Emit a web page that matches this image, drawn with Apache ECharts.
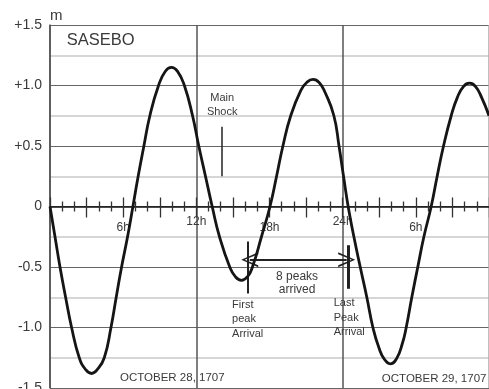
<!DOCTYPE html>
<html>
<head>
<meta charset="utf-8">
<script src="https://cdn.jsdelivr.net/npm/echarts@6/dist/echarts.min.js"></script>
<style>
html,body{margin:0;padding:0;background:#fff;}
#chart{width:489px;height:389px;}
</style>
</head>
<body>
<div id="chart"></div>
<script>
// Tide record at Sasebo, hours after 0h Oct 28, 1707
const hours = [0, 0.41, 0.82, 1.28, 1.77, 2.4, 2.9, 3.41, 3.9, 4.45, 5.0, 5.43, 5.87, 6.36, 6.8,
  7.23, 7.7, 8.19, 8.9, 9.46, 9.96, 10.46, 11.02, 11.69, 12.2, 12.75, 13.3, 13.9, 14.74, 15.2, 15.7,
  16.2, 16.6, 17.34, 18.04, 18.58, 19.1, 19.74, 20.57, 21.07, 21.57, 22.07, 22.57, 23.28, 23.7, 24.07,
  24.45, 24.92, 25.44, 25.98, 26.48, 26.98, 27.43, 27.93, 28.43, 28.9, 29.21, 29.67, 30.16,
  30.66, 31.26, 31.75, 32.27, 32.9, 33.4, 33.9, 34.4, 34.9, 35.4, 36];
const level = [0, -0.25, -0.5, -0.75, -1.0, -1.25, -1.345, -1.38, -1.345, -1.25, -1.0, -0.75, -0.5, -0.25, 0,
  0.25, 0.5, 0.75, 1.0, 1.118, 1.15, 1.117, 1.0, 0.75, 0.5, 0.25, 0, -0.25, -0.5, -0.58, -0.61,
  -0.58, -0.5, -0.25, 0, 0.25, 0.5, 0.75, 0.96, 1.027, 1.05, 1.025, 0.94, 0.75, 0.5, 0.25,
  0, -0.25, -0.5, -0.75, -1.0, -1.17, -1.264, -1.3, -1.255, -1.13, -1.0, -0.75, -0.5,
  -0.25, 0, 0.25, 0.5, 0.75, 0.9, 0.99, 1.02, 0.99, 0.9, 0.75];
const xTickLabels = {6: '6h', 12: '12h', 18: '18h', 24: '24h', 30: '6h'};
const yTickLabels = {'1.5': '+1.5', '1': '+1.0', '0.5': '+0.5', '0': '0', '-0.5': '-0.5', '-1': '-1.0', '-1.5': '-1.5'};
const mainShockHour = 14.12;
const mainShockRange = [0.25, 0.66];
const firstPeakHour = 16.2;
const firstPeakRange = [-0.29, -0.72];
const lastPeakHour = 24.45;
const lastPeakRange = [-0.32, -0.68];
const arrowSpan = [16.38, 24.33];
const arrowLevel = -0.44;

const FONT = '"Liberation Sans", Arial, sans-serif';
const TXT = '#3a3a3a';
const chevron = 'path://M0,20 L5,0 L10,20 L8.6,20 L5,4 L1.4,20 Z';

const H = 389, TOP = 25, BOTTOM = 1;
const zeroFromBottom = BOTTOM + (H - TOP - BOTTOM) / 2; // grid whose bottom edge is the y = 0 line

const chart = echarts.init(document.getElementById('chart'), null, {renderer: 'canvas'});
const hidden = {axisLine: {show: false, onZero: false}, axisTick: {show: false}, axisLabel: {show: false}, splitLine: {show: false}};
chart.setOption({
  animation: false,
  grid: [
    {left: 50, right: 0, top: TOP, bottom: BOTTOM, containLabel: false, outerBoundsMode: 'none'},
    {left: 50, right: 0, top: TOP, bottom: zeroFromBottom, containLabel: false, outerBoundsMode: 'none'},
    {left: 50, right: 0, top: TOP, bottom: zeroFromBottom, containLabel: false, outerBoundsMode: 'none'}
  ],
  xAxis: [
    Object.assign({type: 'value', min: 0, max: 36, gridIndex: 0}, hidden),
    {
      type: 'value', min: 0, max: 36, interval: 3, gridIndex: 1, position: 'bottom',
      axisLine: {show: true, onZero: false, lineStyle: {color: '#111', width: 1.5}},
      splitLine: {show: false},
      axisTick: {show: true, length: 11, lineStyle: {color: '#333', width: 1.3}},
      minorTick: {show: true, splitNumber: 3, length: 5, lineStyle: {color: '#333', width: 1.3}},
      axisLabel: {
        margin: 9, fontFamily: FONT, fontSize: 12, color: TXT,
        formatter: v => xTickLabels[v] ? (v % 12 === 6 ? '{b|' + xTickLabels[v] + '}' : '{a|' + xTickLabels[v] + '}') : '',
        rich: {a: {fontFamily: FONT, fontSize: 12, color: TXT}, b: {fontFamily: FONT, fontSize: 12, color: TXT, padding: [6, 0, 0, 0]}}
      }
    },
    {
      type: 'value', min: 0, max: 36, interval: 3, gridIndex: 2, position: 'bottom',
      axisLine: {show: false, onZero: false},
      splitLine: {show: false},
      axisTick: {show: true, inside: true, length: 9, lineStyle: {color: '#333', width: 1.3}},
      minorTick: {show: true, splitNumber: 3, length: 5, lineStyle: {color: '#333', width: 1.3}},
      axisLabel: {show: false}
    },
    {
      type: 'value', min: 0, max: 36, interval: 12, gridIndex: 0, position: 'top',
      axisLine: {show: false, onZero: false}, axisTick: {show: false}, axisLabel: {show: false},
      splitLine: {show: true, lineStyle: {color: ['#555', '#555', '#555', '#aaa'], width: 1.5}}
    }
  ],
  yAxis: [
    {
      type: 'value', min: -1.5, max: 1.5, interval: 0.5, gridIndex: 0,
      name: 'm', nameLocation: 'end', nameGap: 9,
      nameTextStyle: {fontFamily: FONT, fontSize: 15, color: TXT, align: 'left', verticalAlign: 'middle'},
      axisLine: {show: true, onZero: false, lineStyle: {color: '#555', width: 1.5}},
      axisTick: {show: false},
      axisLabel: {margin: 8, fontFamily: FONT, fontSize: 14, color: TXT, formatter: v => yTickLabels[String(v)] || ''},
      splitLine: {show: true, lineStyle: {color: '#666', width: 1.2}},
      minorTick: {show: false, splitNumber: 2},
      minorSplitLine: {show: true, lineStyle: {color: '#c8c8c8', width: 1.6}}
    },
    Object.assign({type: 'value', min: 0, max: 1, gridIndex: 1}, hidden),
    Object.assign({type: 'value', min: 0, max: 1, gridIndex: 2}, hidden)
  ],
  series: [{
    type: 'line',
    xAxisIndex: 0, yAxisIndex: 0,
    data: hours.map((t, i) => [t, level[i]]),
    smooth: 0.5,
    showSymbol: false,
    lineStyle: {color: '#151515', width: 2.8},
    z: 5,
    markLine: {
      silent: true,
      symbol: 'none',
      label: {show: false},
      data: [
        [{coord: [mainShockHour, mainShockRange[0]], lineStyle: {color: '#222', width: 1.5, type: 'solid'}}, {coord: [mainShockHour, mainShockRange[1]]}],
        [{coord: [firstPeakHour, firstPeakRange[0]], lineStyle: {color: '#222', width: 2, type: 'solid'}}, {coord: [firstPeakHour, firstPeakRange[1]]}],
        [{coord: [lastPeakHour, lastPeakRange[0]], lineStyle: {color: '#222', width: 3, type: 'solid'}}, {coord: [lastPeakHour, lastPeakRange[1]]}],
        [{coord: [arrowSpan[0], arrowLevel], symbol: chevron, symbolSize: [15, 17], lineStyle: {color: '#222', width: 2, type: 'solid'}},
         {coord: [arrowSpan[1], arrowLevel], symbol: chevron, symbolSize: [15, 17]}]
      ]
    },
    markPoint: {
      silent: true,
      symbol: 'circle', symbolSize: 0,
      data: [
        {coord: [1.37, 1.376], label: {show: true, formatter: 'SASEBO', position: 'right', distance: 0, fontFamily: FONT, fontSize: 16.5, color: TXT}},
        {coord: [mainShockHour, 0.84], label: {show: true, formatter: 'Main\nShock', position: 'inside', align: 'center', fontFamily: FONT, fontSize: 11, lineHeight: 14, color: TXT}},
        {coord: [20.26, -0.636], label: {show: true, formatter: '8 peaks\narrived', position: 'inside', align: 'center', fontFamily: FONT, fontSize: 12, lineHeight: 13, color: TXT}},
        {coord: [14.93, -0.93], label: {show: true, formatter: 'First\npeak\nArrival', position: 'right', distance: 0, align: 'left', fontFamily: FONT, fontSize: 11, lineHeight: 14.5, color: TXT}},
        {coord: [23.26, -0.92], label: {show: true, formatter: 'Last\nPeak\nArrival', position: 'right', distance: 0, align: 'left', fontFamily: FONT, fontSize: 11, lineHeight: 14.5, color: TXT}},
        {coord: [5.74, -1.413], label: {show: true, formatter: 'OCTOBER 28, 1707', position: 'right', distance: 0, fontFamily: FONT, fontSize: 11.5, color: TXT}},
        {coord: [27.21, -1.426], label: {show: true, formatter: 'OCTOBER 29, 1707', position: 'right', distance: 0, fontFamily: FONT, fontSize: 11.5, color: TXT}}
      ]
    }
  }]
});
</script>
</body>
</html>
